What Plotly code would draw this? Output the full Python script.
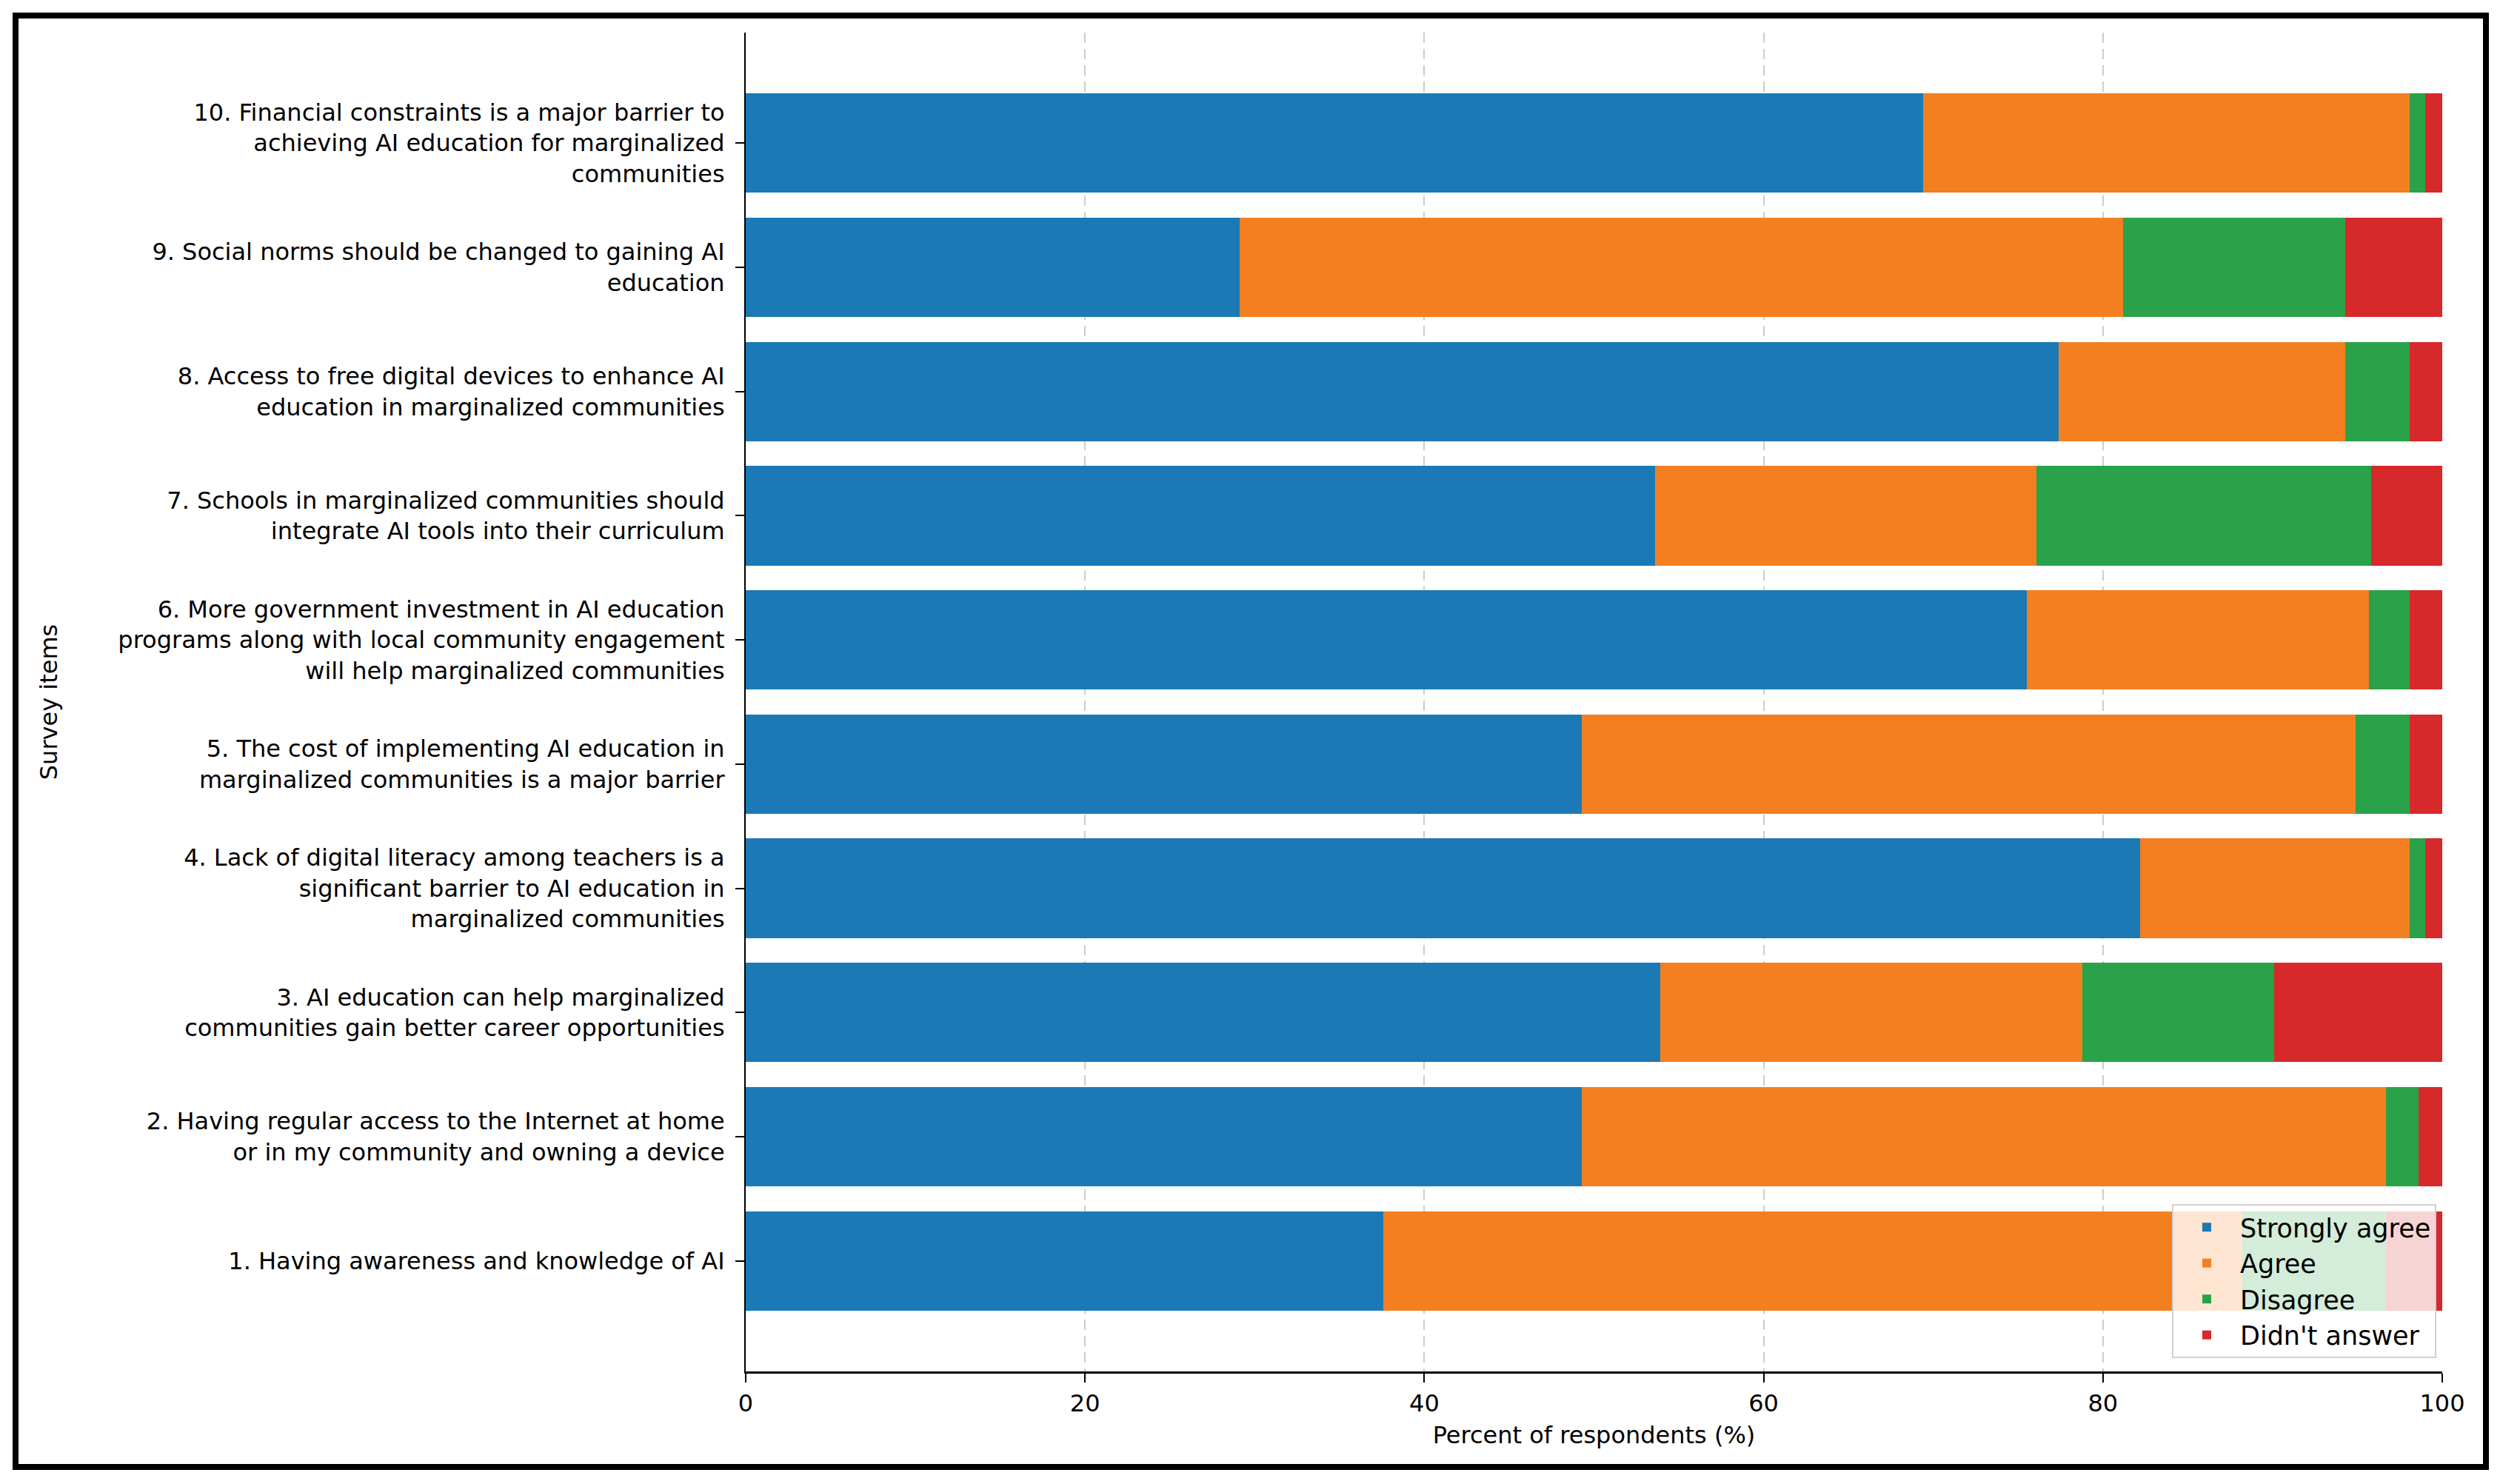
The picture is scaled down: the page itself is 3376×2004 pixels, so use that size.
import plotly.graph_objects as go

# ---- data (items 1..10, bottom to top) ----
item_labels = [
    "1. Having awareness and knowledge of AI",
    "2. Having regular access to the Internet at home<br>or in my community and owning a device",
    "3. AI education can help marginalized<br>communities gain better career opportunities",
    "4. Lack of digital literacy among teachers is a<br>significant barrier to AI education in<br>marginalized communities",
    "5. The cost of implementing AI education in<br>marginalized communities is a major barrier",
    "6. More government investment in AI education<br>programs along with local community engagement<br>will help marginalized communities",
    "7. Schools in marginalized communities should<br>integrate AI tools into their curriculum",
    "8. Access to free digital devices to enhance AI<br>education in marginalized communities",
    "9. Social norms should be changed to gaining AI<br>education",
    "10. Financial constraints is a major barrier to<br>achieving AI education for marginalized<br>communities",
]
strongly_agree = [37.6, 49.3, 53.9, 82.2, 49.3, 75.5, 53.6, 77.4, 29.1, 69.4]
agree          = [50.6, 47.4, 24.9, 15.9, 45.6, 20.2, 22.5, 16.9, 52.1, 28.7]
disagree       = [8.5, 1.9, 11.3, 0.9, 3.2, 2.4, 19.7, 3.8, 13.1, 0.9]
didnt_answer   = [3.3, 1.4, 9.9, 1.0, 1.9, 1.9, 4.2, 1.9, 5.7, 1.0]

series_names = ["Strongly agree", "Agree", "Disagree", "Didn't answer"]
series_values = [strongly_agree, agree, disagree, didnt_answer]
series_colors = ["#1b79b5", "#f47f21", "#2aa249", "#d7282b"]

x_ticks = [0, 20, 40, 60, 80, 100]

# ---- figure ----
W, H = 3376, 2004
ML, MR, MT, MB = 1007, 78, 44, 152
FONT = "DejaVu Sans"
FS = 32

positions = list(range(len(item_labels)))

fig = go.Figure()
for name, vals, col in zip(series_names, series_values, series_colors):
    fig.add_trace(go.Bar(
        y=positions, x=vals, name=name, orientation="h",
        width=0.8, marker=dict(color=col, line=dict(width=0)),
    ))

pw = W - ML - MR
ph = H - MT - MB


def px_x(px):
    return (px - ML) / pw


def px_y(py):
    return (H - MB - py) / ph


fig.update_layout(
    width=W, height=H,
    margin=dict(l=ML, r=MR, t=MT, b=MB),
    barmode="stack",
    paper_bgcolor="white", plot_bgcolor="white",
    font=dict(family=FONT, size=FS, color="black"),
    showlegend=True,
    legend=dict(
        x=0.9965, y=0.01, xanchor="right", yanchor="bottom",
        traceorder="normal",
        bgcolor="rgba(255,255,255,0.8)", bordercolor="#d0d0d0", borderwidth=2,
        font=dict(family=FONT, size=35, color="black"),
        itemwidth=80,
    ),
    xaxis=dict(
        range=[0, 100], tickvals=x_ticks, ticktext=[str(t) for t in x_ticks],
        showgrid=True, gridcolor="#cccccc", gridwidth=2, griddash="14px,8px",
        zeroline=False,
        showline=True, linecolor="black", linewidth=3,
        ticks="outside", ticklen=12, tickwidth=2, tickcolor="black",
        ticklabelstandoff=1,
        automargin=True,
        title=dict(text="Percent of respondents (%)", standoff=14,
                   font=dict(family=FONT, size=FS)),
    ),
    yaxis=dict(
        range=[-0.89, 9.89], tickvals=positions, ticktext=item_labels,
        showgrid=False, zeroline=False,
        showline=True, linecolor="black", linewidth=2,
        ticks="outside", ticklen=12, tickwidth=2, tickcolor="black",
        ticklabelstandoff=8,
        automargin=True,
        title=dict(text="Survey items", standoff=72,
                   font=dict(family=FONT, size=FS)),
    ),
    shapes=[dict(
        type="rect", xref="paper", yref="paper",
        x0=px_x(21), x1=px_x(3357), y0=px_y(1981), y1=px_y(21),
        line=dict(color="black", width=8), fillcolor="rgba(0,0,0,0)",
        layer="above",
    )],
)

fig.write_html("out.html")
